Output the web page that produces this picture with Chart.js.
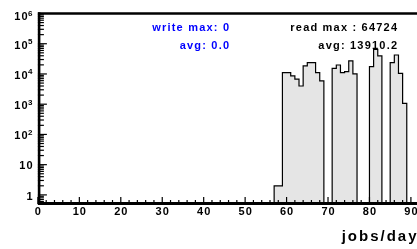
<!DOCTYPE html>
<html>
<head>
<meta charset="utf-8">
<script src="https://cdn.jsdelivr.net/npm/chart.js@4/dist/chart.umd.min.js"></script>
<style>
  html, body { margin: 0; padding: 0; background: #fff; overflow: hidden; }
</style>
</head>
<body>
<canvas id="jobsChart" width="425" height="249"></canvas>
<script>
// Read jobs per day (days with no entry are 0)
const READ_DAYS = [57, 58, 59, 60, 61, 62, 63, 64, 65, 66, 67, 68,
  71, 72, 73, 74, 75, 76, 80, 81, 82, 85, 86, 87, 88];
const READ_JOBS = [2, 2, 11000, 11000, 8600, 6700, 4000, 18400, 23600, 23600, 11000, 5900,
  15400, 19800, 11000, 11900, 26900, 10000, 17400, 64724, 39400, 23600, 42400, 10500, 1070];
const N_DAYS = 92;

const X_TICKS = [0, 10, 20, 30, 40, 50, 60, 70, 80, 90];
const Y_TICKS = [1, 10, 100, 1000, 10000, 100000, 1000000];
const Y_EXPONENTS = ['', '', '2', '3', '4', '5', '6'];

const WRITE_STATS = ['write max: 0', 'avg: 0.0'];
const READ_STATS = ['read max : 64724', 'avg: 13910.2'];
const X_TITLE = 'jobs/day';

const FONT = '"Liberation Sans", Arial, sans-serif';
const Y_MIN = 0.5;

// histogram as left-edge step points; an empty day can't sit on a log axis,
// so it is pushed below the axis minimum and clipped away
function histPoints() {
  const counts = new Array(N_DAYS).fill(0);
  READ_DAYS.forEach((d, i) => { counts[d] = READ_JOBS[i]; });
  const floor = Y_MIN / 10;
  const pts = counts.map((v, d) => ({ x: d, y: v > 0 ? v : floor }));
  pts.push({ x: N_DAYS, y: floor });
  return pts;
}

// ROOT-like frame, inward ticks and labels
const rootAxes = {
  id: 'rootAxes',
  afterDatasetsDraw(chart) {
    const { ctx, chartArea: a, scales: { x, y } } = chart;
    ctx.save();
    ctx.strokeStyle = '#000';
    ctx.fillStyle = '#000';
    const seg = (x1, y1, x2, y2, w) => {
      ctx.lineWidth = w;
      ctx.beginPath();
      ctx.moveTo(x1, y1);
      ctx.lineTo(x2, y2);
      ctx.stroke();
    };
    // frame
    seg(a.left, a.top, a.right + 10, a.top, 2.6);
    seg(a.left + 1.2, a.top - 1.2, a.left + 1.2, a.bottom, 2.6);
    seg(a.left, a.bottom - 0.5, a.right + 10, a.bottom - 0.5, 3);

    // x ticks
    for (let v = 0; v <= N_DAYS; v += 2) {
      const px = x.getPixelForValue(v);
      const len = v % 10 === 0 ? 7 : 4;
      seg(px, a.bottom, px, a.bottom - len, 1.2);
    }
    // y ticks
    for (let dec = 0.1; dec <= 100000; dec *= 10) {
      for (let m = 1; m <= 9; m++) {
        const v = m * dec;
        if (v < y.min || v > y.max) continue;
        const py = y.getPixelForValue(v);
        const len = m === 1 ? 9 : 6;
        seg(a.left, py, a.left + len, py, 1.2);
      }
    }
    ctx.lineWidth = 1;

    // x labels
    ctx.font = 'bold 11px ' + FONT;
    ctx.letterSpacing = '1px';
    ctx.textAlign = 'center';
    ctx.textBaseline = 'alphabetic';
    X_TICKS.forEach((v) => {
      ctx.fillText(String(v), x.getPixelForValue(v) + 0.5, a.bottom + 11);
    });

    // y labels
    const right = 32.5;
    Y_TICKS.forEach((v, i) => {
      const py = y.getPixelForValue(v);
      const base = Math.max(py + 4.8, a.top + 6.5);
      ctx.textAlign = 'right';
      const exp = Y_EXPONENTS[i];
      if (exp) {
        ctx.font = 'bold 8px ' + FONT;
        ctx.letterSpacing = '0px';
        const ew = ctx.measureText(exp).width;
        ctx.fillText(exp, right, base - 4.3);
        ctx.font = 'bold 11px ' + FONT;
        ctx.letterSpacing = '1px';
        ctx.fillText('10', right - ew + 0.5, base);
      } else {
        ctx.font = 'bold 11px ' + FONT;
        ctx.letterSpacing = '1px';
        ctx.fillText(String(v), right + 1, base);
      }
    });

    // stats text
    ctx.font = 'bold 11px ' + FONT;
    ctx.letterSpacing = '1.2px';
    ctx.textAlign = 'right';
    ctx.fillStyle = '#0000ff';
    ctx.fillText(WRITE_STATS[0], 230.2, 30.5);
    ctx.fillText(WRITE_STATS[1], 230.2, 48.5);
    ctx.fillStyle = '#000';
    ctx.fillText(READ_STATS[0], 398.2, 30.5);
    ctx.fillText(READ_STATS[1], 398.2, 49);

    // axis title
    ctx.font = 'bold 15px ' + FONT;
    ctx.letterSpacing = '2px';
    ctx.fillText(X_TITLE, 418.5, 241);
    ctx.restore();
  },
};

new Chart(document.getElementById('jobsChart'), {
  type: 'line',
  data: {
    datasets: [
      {
        label: 'read',
        data: histPoints(),
        stepped: true,
        fill: 'start',
        backgroundColor: '#e5e5e5',
        borderColor: '#000',
        borderWidth: 1.2,
        pointRadius: 0,
        tension: 0,
      },
    ],
  },
  options: {
    responsive: false,
    animation: false,
    devicePixelRatio: 1,
    layout: { padding: { left: 37.9, right: 5.8, top: 13.5, bottom: 45 } },
    plugins: { legend: { display: false }, tooltip: { enabled: false } },
    scales: {
      x: { type: 'linear', min: 0, max: N_DAYS, display: false },
      y: { type: 'logarithmic', min: Y_MIN, max: 1000000, display: false },
    },
  },
  plugins: [rootAxes],
});
</script>
</body>
</html>
